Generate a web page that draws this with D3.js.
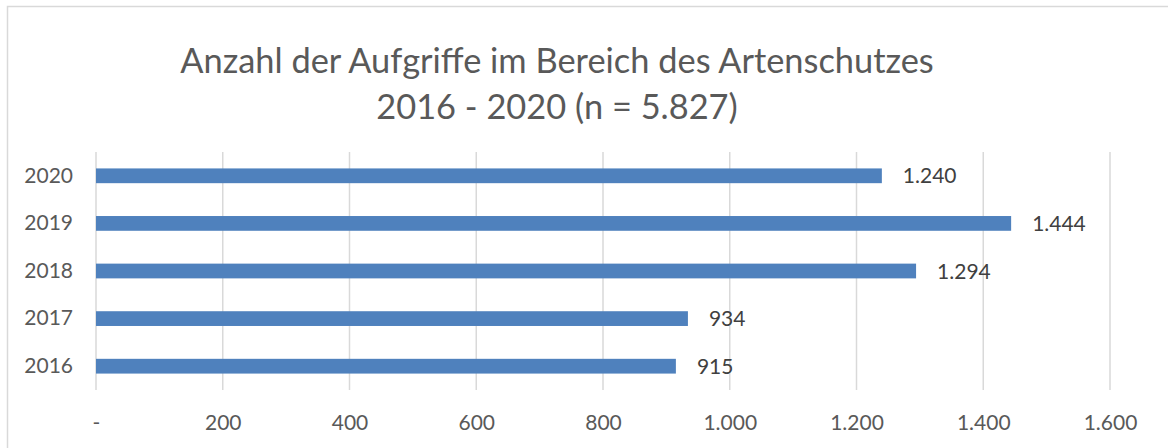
<!DOCTYPE html>
<html>
<head>
<meta charset="utf-8">
<script src="https://cdn.jsdelivr.net/npm/d3@7"></script>
<style>
  html, body { margin: 0; padding: 0; background: #fff; }
  svg { display: block; font-family: Lato, "Open Sans", sans-serif; }
</style>
</head>
<body>
<svg id="chart" width="1168" height="448"></svg>
<script>
const titleLines = ["Anzahl der Aufgriffe im Bereich des Artenschutzes", "2016 - 2020 (n = 5.827)"];
const years = ["2020", "2019", "2018", "2017", "2016"];
const counts = [1240, 1444, 1294, 934, 915];
const xTicks = [0, 200, 400, 600, 800, 1000, 1200, 1400, 1600];

const de = d3.formatLocale({decimal: ",", thousands: ".", grouping: [3], currency: ["", " €"]});
const fmt = de.format(",d");
const tickFmt = v => v === 0 ? "-" : fmt(v);

const svg = d3.select("#chart");

// outer chart frame (only top and left edges visible in the crop)
svg.append("path")
  .attr("d", "M7.5,448 L7.5,6.5 L1168,6.5")
  .attr("fill", "none").attr("stroke", "#d9d9d9").attr("stroke-width", 1.5);

const x = d3.scaleLinear().domain([0, 1600]).range([96, 1110]);
const y = d3.scaleBand().domain(years).range([152, 390]).paddingInner(0.69).paddingOuter(0.345);

// title
const title = svg.append("text")
  .attr("text-anchor", "middle")
  .attr("fill", "#595959")
  .attr("font-size", 34.4);
title.selectAll("tspan").data(titleLines).join("tspan")
  .attr("x", 557)
  .attr("y", (d, i) => 73 + i * 45.5)
  .text(d => d);

// gridlines
svg.append("g").selectAll("line").data(xTicks).join("line")
  .attr("x1", d => x(d)).attr("x2", d => x(d))
  .attr("y1", 152).attr("y2", 390)
  .attr("stroke", "#d9d9d9").attr("stroke-width", 1.5);

// x axis labels
const xAxis = d3.axisBottom(x).tickValues(xTicks).tickFormat(tickFmt).tickSize(0).tickPadding(0);
const gx = svg.append("g").attr("transform", "translate(0,411)").call(xAxis);
gx.select(".domain").remove();
gx.selectAll("text")
  .attr("font-family", "Lato, 'Open Sans', sans-serif")
  .attr("font-size", 21).attr("fill", "#595959")
  .attr("dy", "0.71em").attr("y", 4);

// y axis labels
const yAxis = d3.axisLeft(y).tickSize(0).tickPadding(0);
const gy = svg.append("g").attr("transform", "translate(73,0)").call(yAxis);
gy.select(".domain").remove();
gy.selectAll("text")
  .attr("font-family", "Lato, 'Open Sans', sans-serif")
  .attr("font-size", 21).attr("fill", "#595959");

// bars
svg.append("g").selectAll("rect").data(years).join("rect")
  .attr("x", x(0))
  .attr("y", d => y(d))
  .attr("width", (d, i) => x(counts[i]) - x(0))
  .attr("height", y.bandwidth())
  .attr("fill", "#4f81bd");

// data labels
svg.append("g").selectAll("text").data(years).join("text")
  .attr("x", (d, i) => x(counts[i]) + 21)
  .attr("y", d => y(d) + y.bandwidth() / 2)
  .attr("dy", "0.36em")
  .attr("font-size", 21)
  .attr("fill", "#404040")
  .text((d, i) => fmt(counts[i]));
</script>
</body>
</html>
